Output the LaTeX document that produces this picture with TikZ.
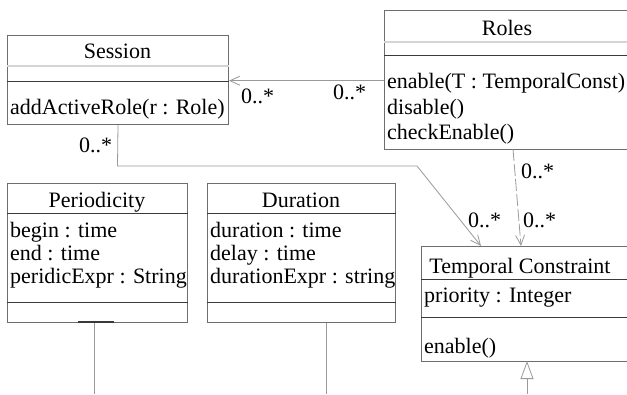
\documentclass[tikz,border=0pt]{standalone}
\usepackage{fontspec}
\setmainfont{Liberation Serif}
\newfontfamily\umlfont{Liberation Serif}
\usetikzlibrary{arrows.meta,calc}
\definecolor{boxgray}{HTML}{6E6E6E}
\definecolor{divdark}{HTML}{3A3A3A}
\definecolor{divlight}{HTML}{D4D4D4}
\definecolor{linkgray}{HTML}{9A9A9A}
\begin{document}
\begin{tikzpicture}[x=1pt,y=-1pt,
  every node/.style={font=\umlfont\fontsize{22}{25}\selectfont, inner sep=0pt, text=black},
  classbox/.style={draw=boxgray, line width=1pt, anchor=north west, inner sep=0pt},
  divd/.style={draw=divdark, line width=1pt},
  divl/.style={draw=divlight, line width=1.4pt},
  txt/.style={anchor=base west},
  ctr/.style={anchor=base},
  mult/.style={anchor=base west},
  assoc/.style={draw=linkgray, line width=0.8pt, -{Straight Barb[length=10pt,width=9pt,line width=0.8pt]}},
  depend/.style={assoc, dash pattern=on 12pt off 3pt},
  inherit/.style={draw=linkgray, line width=1pt, -{Triangle[open,length=18pt,width=13pt,line width=0.8pt]}},
  plain/.style={draw=linkgray, line width=1pt}
]
\clip (0,0) rectangle (627,394);

% class outlines
\node[classbox, minimum width=221pt, minimum height=89.5pt] (session) at (7,34.7) {};
\node[classbox, minimum width=260pt, minimum height=139.5pt] (roles) at (384,9.5) {};
\node[classbox, minimum width=180pt, minimum height=139pt] (period) at (7,183) {};
\node[classbox, minimum width=188pt, minimum height=139pt] (duration) at (207,183) {};
\node[classbox, minimum width=230pt, minimum height=115pt] (tc) at (421,246) {};

% compartment separators
\draw[divl] ($(session.north west)+(0,31.3)$) -- ($(session.north east)+(0,31.3)$);
\draw[divd] ($(session.north west)+(0,46.3)$) -- ($(session.north east)+(0,46.3)$);
\draw[divl] ($(roles.north west)+(0,32.5)$) -- ($(roles.north east)+(0,32.5)$);
\draw[divd] ($(roles.north west)+(0,45.5)$) -- ($(roles.north east)+(0,45.5)$);
\draw[divd] ($(period.north west)+(0,30)$) -- ($(period.north east)+(0,30)$);
\draw[divd] ($(period.north west)+(0,119)$) -- ($(period.north east)+(0,119)$);
\draw[divd] ($(duration.north west)+(0,30)$) -- ($(duration.north east)+(0,30)$);
\draw[divd] ($(duration.north west)+(0,119)$) -- ($(duration.north east)+(0,119)$);
\draw[divd] ($(tc.north west)+(0,33)$) -- ($(tc.north east)+(0,33)$);
\draw[divd] ($(tc.north west)+(0,71)$) -- ($(tc.north east)+(0,71)$);

% class texts
\node[ctr] (sessionname) at (117.5,58) {Session};
\node[txt] (sessionop) at (10,114) {addActiveRole(r : Role)};
\node[ctr] (rolesname) at (507,35) {Roles};
\node[txt] (rolesop1) at (387,88) {enable(T : TemporalConst)};
\node[txt] (rolesop2) at (387,114) {disable()};
\node[txt] (rolesop3) at (387,139) {checkEnable()};
\node[ctr] (periodname) at (97,207) {Periodicity};
\node[txt] (periodat1) at (10,237) {begin : time};
\node[txt] (periodat2) at (10,260) {end : time};
\node[txt] (periodat3) at (10,283) {peridicExpr : String};
\node[ctr] (durationname) at (301,207) {Duration};
\node[txt] (durationat1) at (210,237) {duration : time};
\node[txt] (durationat2) at (210,260) {delay : time};
\node[txt] (durationat3) at (210,283) {durationExpr : string};
\node[ctr] (tcname) at (520,273) {Temporal Constraint};
\node[txt] (tcat) at (424,302) {priority : Integer};
\node[txt] (tcop) at (424,353) {enable()};

% connector end points
\coordinate (rolesout) at ($(roles.north west)+(0,71.2)$);
\coordinate (sessionin) at ($(session.north east)+(0,46)$);
\coordinate (bendA) at (117.5,166);
\coordinate (bendB) at (417,166);
\coordinate (tcinA) at (481,246);
\coordinate (rolesbottom) at (513,149);
\coordinate (tcinB) at (521,246);
\coordinate (tcbelow) at (527,394);
\coordinate (tcbase) at (527,361);
\coordinate (periodtail) at (94,394);
\coordinate (durationtail) at (326,394);

% associations
\draw[assoc] (rolesout) -- (sessionin);
\draw[assoc] (session.south) -- (bendA) -- (bendB) -- (tcinA);
\draw[depend] (rolesbottom) -- (tcinB);
\draw[inherit] (tcbelow) -- (tcbase);
\draw[plain] (94,322) -- (periodtail);
\draw[plain] (duration.south -| durationtail) -- (durationtail);
\draw[draw=divdark, line width=1.6pt] (78,322) -- (114,322);

% multiplicities
\node[mult] (m1) at (241,103) {0..*};
\node[mult] (m2) at (333,99) {0..*};
\node[mult] (m3) at (79,152) {0..*};
\node[mult] (m4) at (521,178) {0..*};
\node[mult] (m5) at (468,227) {0..*};
\node[mult] (m6) at (523,227) {0..*};
\end{tikzpicture}
\end{document}
